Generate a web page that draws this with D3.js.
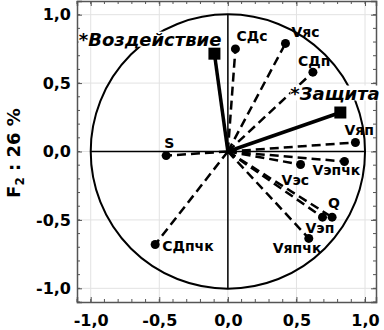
<!DOCTYPE html>
<html>
<head>
<meta charset="utf-8">
<script src="https://cdn.jsdelivr.net/npm/d3@7"></script>
<style>
  body { margin: 0; background: #fff; }
  text { font-family: "DejaVu Sans", sans-serif; font-weight: bold; }
</style>
</head>
<body>
<div id="chart"></div>
<script>
// active variables (dashed vectors)
const varNames = ["СДс", "Vяс", "СДп", "Vяп", "Vэпчк", "Vэс", "Q", "Vэп", "Vяпчк", "S", "СДпчк"];
const varF1 = [0.055, 0.42, 0.62, 0.93, 0.85, 0.53, 0.76, 0.69, 0.59, -0.45, -0.53];
const varF2 = [0.75, 0.79, 0.58, 0.066, -0.073, -0.095, -0.48, -0.48, -0.635, -0.03, -0.68];
// supplementary variables (solid vectors)
const supNames = ["*Воздействие", "*Защита"];
const supF1 = [-0.098, 0.82];
const supF2 = [0.715, 0.285];
const tickValues = [-1, -0.5, 0, 0.5, 1];
const yTitle = "F";

const labelPos = {
  "СДс": [1, -8, "start"], "Vяс": [6, -6, "start"], "СДп": [-15, -6, "start"],
  "Vяп": [-11, -7, "start"], "Vэпчк": [-32, 14, "start"], "Vэс": [-19, 21, "start"],
  "Q": [-4, -9, "start"], "Vэп": [-17, 16, "start"], "Vяпчк": [-36, 15, "start"],
  "S": [-2, -8, "start"], "СДпчк": [7, 6, "start"],
  "*Воздействие": [7, -8, "end"], "*Защита": [-50, -13, "start"]
};

const W = 384, H = 330;
const margin = { left: 77, top: 1, right: 8, bottom: 28 };
const width = W - margin.left - margin.right, height = H - margin.top - margin.bottom;

const svg = d3.select("#chart").append("svg")
  .attr("width", W).attr("height", H);
const g = svg.append("g").attr("transform", "translate(" + margin.left + "," + margin.top + ")");

const x = d3.scaleLinear().domain([-1.1, 1.08]).range([0, width]);
const y = d3.scaleLinear().domain([-1.1, 1.1]).range([height, 0]);
const fmt = d => d3.format(".1f")(d).replace(".", ",").replace("−", "-");

// grid
g.append("g").selectAll("line").data(tickValues).enter().append("line")
  .attr("x1", d => x(d)).attr("x2", d => x(d)).attr("y1", 0).attr("y2", height)
  .attr("stroke", "#e2e2e2").attr("stroke-width", 1);
g.append("g").selectAll("line").data(tickValues).enter().append("line")
  .attr("y1", d => y(d)).attr("y2", d => y(d)).attr("x1", 0).attr("x2", width)
  .attr("stroke", "#e2e2e2").attr("stroke-width", 1);

// unit circle and axes through origin
g.append("circle").attr("cx", x(0)).attr("cy", y(0))
  .attr("r", x(1) - x(0)).attr("fill", "none").attr("stroke", "#000").attr("stroke-width", 2);
g.append("line").attr("x1", x(0)).attr("x2", x(0)).attr("y1", y(1)).attr("y2", y(-1))
  .attr("stroke", "#000").attr("stroke-width", 1.5);
g.append("line").attr("x1", x(-1)).attr("x2", x(1)).attr("y1", y(0)).attr("y2", y(0))
  .attr("stroke", "#000").attr("stroke-width", 1.5);

// axes with inward ticks
const minor = d3.range(-11, 11).map(d => d / 10);
function styleAxis(sel) {
  sel.select(".domain").attr("stroke", "#555").attr("stroke-width", 1.5);
  sel.selectAll(".tick line").attr("stroke", "#555");
  sel.selectAll("text").style("font-size", "16px").attr("fill", "#000");
}
g.append("g").attr("transform", "translate(0," + height + ")")
  .call(d3.axisBottom(x).tickValues(tickValues).tickFormat(fmt).tickSize(-5).tickPadding(13))
  .call(styleAxis);
g.append("g")
  .call(d3.axisLeft(y).tickValues(tickValues).tickFormat(fmt).tickSize(-5).tickPadding(6))
  .call(styleAxis);
g.append("g")
  .call(d3.axisTop(x).tickValues(tickValues).tickFormat("").tickSize(-5))
  .call(styleAxis);
g.append("g").attr("transform", "translate(" + width + ",0)")
  .call(d3.axisRight(y).tickValues(tickValues).tickFormat("").tickSize(-5))
  .call(styleAxis);
// minor ticks
const mt = g.append("g").attr("stroke", "#555").attr("stroke-width", 1);
minor.filter(d => d >= x.domain()[0] && d <= x.domain()[1]).forEach(d => {
  mt.append("line").attr("x1", x(d)).attr("x2", x(d)).attr("y1", height).attr("y2", height - 3);
  mt.append("line").attr("x1", x(d)).attr("x2", x(d)).attr("y1", 0).attr("y2", 3);
});
minor.filter(d => d >= y.domain()[0] && d <= y.domain()[1]).forEach(d => {
  mt.append("line").attr("y1", y(d)).attr("y2", y(d)).attr("x1", 0).attr("x2", 3);
  mt.append("line").attr("y1", y(d)).attr("y2", y(d)).attr("x1", width).attr("x2", width - 3);
});

// dashed vectors
const vars = varNames.map((n, i) => ({ name: n, f1: varF1[i], f2: varF2[i] }));
g.append("g").selectAll("line").data(vars).enter().append("line")
  .attr("x1", x(0)).attr("y1", y(0))
  .attr("x2", d => x(d.f1)).attr("y2", d => y(d.f2))
  .attr("stroke", "#000").attr("stroke-width", 2.5).attr("stroke-dasharray", "9,5");
g.append("g").selectAll("circle").data(vars).enter().append("circle")
  .attr("cx", d => x(d.f1)).attr("cy", d => y(d.f2)).attr("r", 4.5).attr("fill", "#000");

// solid vectors
const sups = supNames.map((n, i) => ({ name: n, f1: supF1[i], f2: supF2[i] }));
g.append("g").selectAll("line").data(sups).enter().append("line")
  .attr("x1", x(0)).attr("y1", y(0))
  .attr("x2", d => x(d.f1)).attr("y2", d => y(d.f2))
  .attr("stroke", "#000").attr("stroke-width", 3.5);
g.append("g").selectAll("rect").data(sups).enter().append("rect")
  .attr("x", d => x(d.f1) - 6).attr("y", d => y(d.f2) - 6)
  .attr("width", 12).attr("height", 12).attr("fill", "#000");

// labels
const lab = g.append("g");
vars.forEach(d => {
  const p = labelPos[d.name];
  lab.append("text").attr("x", x(d.f1) + p[0]).attr("y", y(d.f2) + p[1])
    .attr("text-anchor", p[2]).style("font-size", "14px").text(d.name);
});
sups.forEach(d => {
  const p = labelPos[d.name];
  const t = lab.append("text").attr("x", x(d.f1) + p[0]).attr("y", y(d.f2) + p[1])
    .attr("text-anchor", p[2]).style("font-size", "18px").style("font-style", "italic").text(d.name);
  const b = t.node().getBBox();
  lab.insert("rect", () => t.node()).attr("x", b.x).attr("y", b.y + 3)
    .attr("width", b.width).attr("height", b.height - 6).attr("fill", "#fff");
});

// y axis title
const yt = svg.append("text").attr("transform", "translate(20,153) rotate(-90)")
  .attr("text-anchor", "middle").style("font-size", "18px");
yt.append("tspan").text(yTitle);
yt.append("tspan").attr("dy", 4).style("font-size", "12px").text("2");
yt.append("tspan").attr("dy", -4).text(" : 26 %");
</script>
</body>
</html>
